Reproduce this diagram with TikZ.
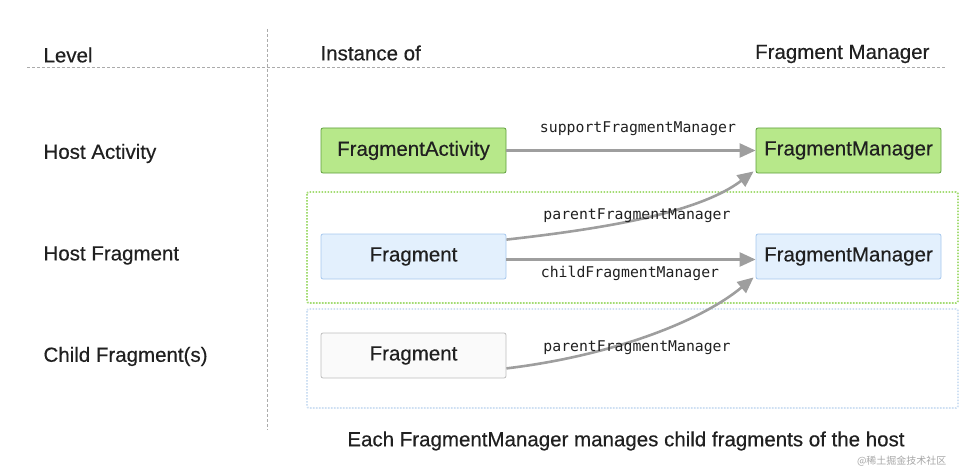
\documentclass[tikz,border=0pt]{standalone}
\usepackage{fontspec}
\setmainfont{Liberation Sans}[FakeBold=0.4]
\setmonofont{DejaVu Sans Mono}
\newfontfamily\cjk{Noto Sans CJK SC}
\newfontfamily\medsans{Liberation Sans}[FakeBold=0.4]
\usetikzlibrary{arrows.meta}
\definecolor{gfill}{HTML}{B7E88A}
\definecolor{gdraw}{HTML}{5E9E3C}
\definecolor{bfill}{HTML}{E3F0FD}
\definecolor{bdraw}{HTML}{A6C8EE}
\definecolor{wfill}{HTML}{FAFAFA}
\definecolor{wdraw}{HTML}{BDBDBD}
\definecolor{gdot}{HTML}{A4DC74}
\definecolor{bdot}{HTML}{CFE0F3}
\definecolor{arr}{HTML}{9E9E9E}
\definecolor{sep}{HTML}{ABABAB}
\definecolor{txt}{HTML}{202020}
\tikzset{
  box/.style={rectangle, rounded corners=2pt, minimum width=185pt, minimum height=45pt, line width=0.8pt, inner sep=0pt, text=txt, font=\medsans\fontsize{20.5}{24}\selectfont},
  gbox/.style={box, fill=gfill, draw=gdraw},
  bbox/.style={box, fill=bfill, draw=bdraw},
  wbox/.style={box, fill=wfill, draw=wdraw},
  head/.style={anchor=west, text=txt, font=\medsans\fontsize{20.5}{24}\selectfont},
  lvl/.style={anchor=west, text=txt, font=\medsans\fontsize{20.5}{24}\selectfont},
  conn/.style={draw=arr, line width=2.6pt, -{Triangle[length=16pt,width=14pt]}},
  lbl/.style={text=txt, font=\ttfamily\fontsize{14.8}{18}\selectfont},
  sepline/.style={draw=sep, line width=0.7pt, dash pattern=on 3pt off 2pt},
  grp/.style={rounded corners=2pt, line width=1.8pt, dash pattern=on 1.6pt off 1.4pt}
}
\begin{document}
\begin{tikzpicture}[x=1pt,y=-1pt]
\useasboundingbox (0,0) rectangle (974,468);
% separators
\coordinate (vtop) at (267,29);
\coordinate (vbot) at (267,430);
\coordinate (hl) at (27,67);
\coordinate (hr) at (945,67);
\draw[sepline] (vtop) -- (vbot);
\draw[sepline] (hl) -- (hr);
% group boxes
\draw[grp, draw=gdot] (307,192) rectangle (958,303);
\draw[grp, draw=bdot] (307,309) rectangle (958,408);
% headings
\node[head] (hlevel) at (40,55) {Level};
\node[head] (hinst) at (317,53) {Instance of};
\node[head, anchor=east] (hfm) at (933,54) {Fragment Manager};
% level labels
\node[lvl] (lha) at (40,153.5) {Host Activity};
\node[lvl] (lhf) at (40,255.5) {Host Fragment};
\node[lvl] (lcf) at (40,356.5) {Child Fragment(s)};
% boxes
\node[gbox] (fa) at (413.5,150.5) {FragmentActivity};
\node[gbox] (fm1) at (848.5,150.5) {FragmentManager};
\node[bbox] (fr) at (413.5,256.5) {Fragment};
\node[bbox] (fm2) at (848.5,256.5) {FragmentManager};
\node[wbox] (cf) at (413.5,355.5) {Fragment};
% connectors
\draw[conn] (fa.east) -- (fm1.west);
\draw[conn] ([yshift=-6pt]fr.north east) .. controls (610,228) and (700,212) .. ([xshift=-2pt,yshift=2pt]fm1.south west);
\draw[conn] ([yshift=-3pt]fr.east) -- ([yshift=-3pt]fm2.west);
\draw[conn] ([yshift=10pt]cf.south east) .. controls (610,356) and (700,322) .. ([xshift=-2pt,yshift=2pt]fm2.south west);
% connector labels
\node[lbl] (l1) at (638,129) {supportFragmentManager};
\node[lbl] (l2) at (637,216) {parentFragmentManager};
\node[lbl] (l3) at (630,273) {childFragmentManager};
\node[lbl] (l4) at (637,348) {parentFragmentManager};
% caption
\node[text=txt, font=\medsans\fontsize{20.5}{24}\selectfont] (cap) at (626,441) {Each FragmentManager manages child fragments of the host};
\node[font=\cjk\fontsize{10}{12}\selectfont, text=black!35, anchor=east] (wm) at (950,461) {@稀土掘金技术社区};
\end{tikzpicture}
\end{document}
